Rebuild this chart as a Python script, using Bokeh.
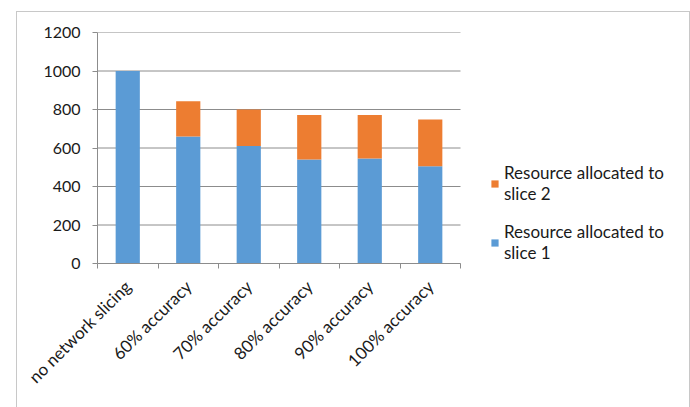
from bokeh.plotting import figure
from bokeh.models import FixedTicker, Legend, LegendItem, Range1d, ColumnDataSource
from bokeh.embed import file_html
from bokeh.resources import INLINE
import math

categories = ["no network slicing", "60% accuracy", "70% accuracy", "80% accuracy", "90% accuracy", "100% accuracy"]
slice1 = [1000, 660, 610, 540, 545, 505]
slice2 = [0, 183, 190, 231, 226, 243]
y_ticks = [0, 200, 400, 600, 800, 1000, 1200]

BLUE = "#5B9BD5"
ORANGE = "#ED7D31"
GRID = "#8c8c8c"
FONT = "Lato"

n = len(categories)
xs = [i + 0.5 for i in range(n)]
top1 = slice1
top2 = [a + b for a, b in zip(slice1, slice2)]
src = ColumnDataSource(dict(x=xs, b1=[0] * n, t1=top1, t2=top2))

FRAME_W = 592
PLOT_W = 363
x_end = n * FRAME_W / PLOT_W

p = figure(width=674, height=396, output_backend="svg", toolbar_location=None,
           x_range=Range1d(0, x_end), y_range=Range1d(0, 1200),
           min_border_left=80, min_border_top=20, min_border_right=2, min_border_bottom=145)
p.margin = (11, 0, 0, 16)
p.styles = {"border-left": "1px solid #c8c8c8", "border-top": "1px solid #c8c8c8",
            "border-right": "1px solid #c8c8c8"}
p.outline_line_color = None
p.background_fill_color = "white"

# horizontal gridlines limited to the category span
p.segment(x0=[0] * len(y_ticks), x1=[n] * len(y_ticks), y0=y_ticks, y1=y_ticks,
          line_color=GRID, line_width=1)

r1 = p.vbar(x="x", bottom="b1", top="t1", width=0.4, fill_color=BLUE, line_color=None, source=src)
r2 = p.vbar(x="x", bottom="t1", top="t2", width=0.4, fill_color=ORANGE, line_color=None, source=src)

p.xaxis.bounds = (0, n)
p.xaxis.ticker = FixedTicker(ticks=xs, minor_ticks=list(range(n + 1)))
p.xaxis.major_label_overrides = {x: c for x, c in zip(xs, categories)}
p.xaxis.major_label_orientation = math.pi / 4
p.xaxis.major_tick_line_color = None
p.xaxis.minor_tick_line_color = GRID
p.xaxis.minor_tick_out = 5
p.xaxis.minor_tick_in = 0
p.xaxis.axis_line_color = GRID
p.xaxis.major_label_text_font = FONT
p.xaxis.major_label_text_font_size = "17px"
p.xaxis.major_label_text_color = "#1a1a1a"
p.xaxis.major_label_standoff = 14

p.yaxis.ticker = FixedTicker(ticks=y_ticks)
p.yaxis.minor_tick_line_color = None
p.yaxis.major_tick_line_color = GRID
p.yaxis.major_tick_out = 5
p.yaxis.major_tick_in = 0
p.yaxis.axis_line_color = GRID
p.yaxis.major_label_text_font = FONT
p.yaxis.major_label_text_font_size = "16px"
p.yaxis.major_label_text_color = "#1a1a1a"
p.yaxis.major_label_standoff = 12

p.xgrid.grid_line_color = None
p.ygrid.grid_line_color = None

legend = Legend(items=[
    LegendItem(label="Resource allocated to\nslice 2", renderers=[r2]),
    LegendItem(label="Resource allocated to\nslice 1", renderers=[r1]),
], location=(393, 0))
legend.border_line_color = None
legend.background_fill_alpha = 0
legend.label_text_font = FONT
legend.label_text_font_size = "17px"
legend.label_text_color = "#1a1a1a"
legend.glyph_width = 9
legend.glyph_height = 9
legend.spacing = 17
legend.padding = 0
legend.margin = 0
legend.label_standoff = 5
p.add_layout(legend)

open("out.html", "w").write(file_html(p, INLINE))
